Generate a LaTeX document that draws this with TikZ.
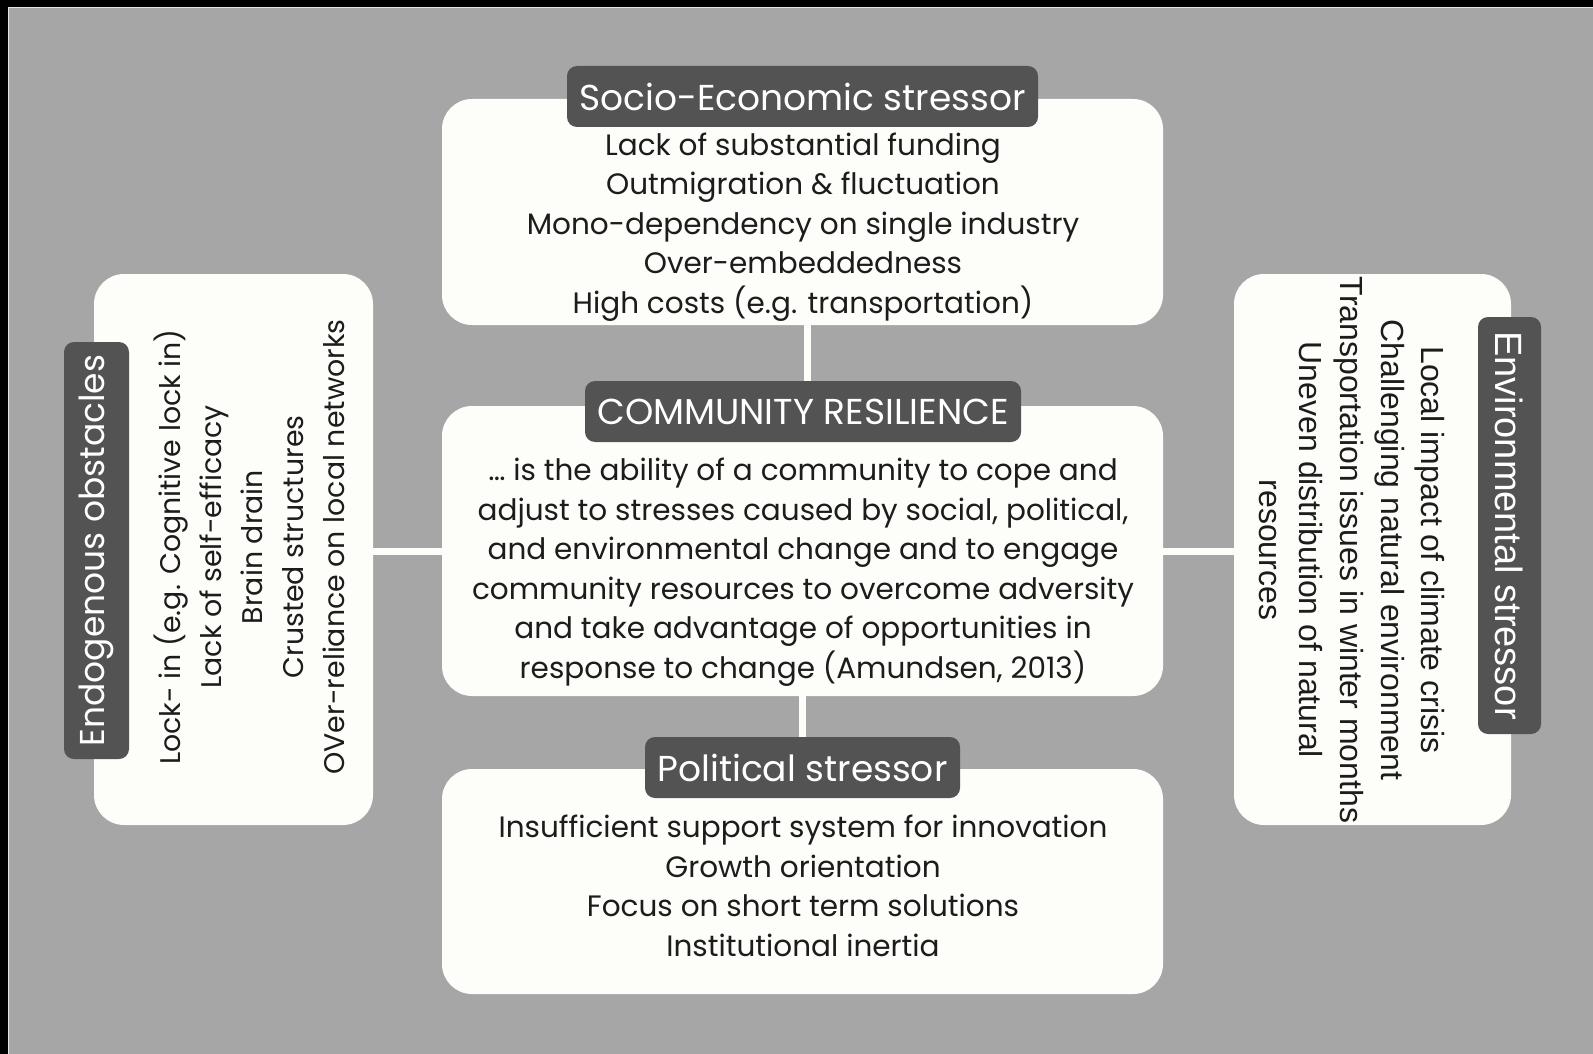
\documentclass[tikz,border=0pt]{standalone}
\usepackage{fontspec}
\setmainfont{Poppins}
\newfontfamily\arialfont{Liberation Sans}
\definecolor{bggray}{HTML}{A6A6A6}
\definecolor{boxfill}{HTML}{FDFDF9}
\definecolor{labfill}{HTML}{535353}
\definecolor{txt}{HTML}{1C1C1C}
\tikzset{
  panel/.style={draw=none, fill=boxfill, rounded corners=30pt, inner sep=0pt},
  tag/.style={draw=none, fill=labfill, rounded corners=10pt, inner sep=0pt, text=white, font=\fontsize{36}{40}\selectfont},
  body/.style={align=center, text=txt, inner sep=0pt, font=\fontsize{29.5}{39.5}\selectfont},
  link/.style={draw=boxfill, line width=7pt}
}
\begin{document}
\begin{tikzpicture}[x=1pt,y=-1pt]
\useasboundingbox (0,0) rectangle (1593,1054);
\fill[bggray] (0,0) rectangle (1593,1054);
\fill[black] (0,0) rectangle (1593,7);
\fill[black] (0,0) rectangle (8,1054);
\draw[draw=white!80!gray, line width=1pt] (8.5,1054) -- (8.5,7.5) -- (1593,7.5);

% panels
\node[panel, minimum width=721pt, minimum height=226pt] (se) at (802.5,212) {};
\node[panel, minimum width=721pt, minimum height=290pt] (cr) at (802.5,551) {};
\node[panel, minimum width=721pt, minimum height=225pt] (po) at (802.5,881.5) {};
\node[panel, minimum width=279pt, minimum height=551pt] (en) at (233.5,549.5) {};
\node[panel, minimum width=277pt, minimum height=551pt] (ev) at (1372.5,549.5) {};

% connectors
\draw[link] ([xshift=5pt]se.south) -- ([xshift=5pt]cr.north);
\draw[link] ([xshift=0pt]cr.south) -- ([xshift=0pt]po.north);
\draw[link] (cr.west) -- (en.east |- cr.west);
\draw[link] (cr.east) -- (ev.west |- cr.east);

% tags
\node[tag, minimum width=471pt, minimum height=61pt] (tse) at (802.5,96.5) {Socio-Economic stressor};
\node[tag, minimum width=436pt, minimum height=61pt] (tcr) at (803,411.5) {COMMUNITY RESILIENCE};
\node[tag, minimum width=315pt, minimum height=61pt] (tpo) at (802.5,767.5) {Political stressor};
\node[tag, rotate=90, minimum width=417pt, minimum height=65pt, font=\fontsize{34.5}{38}\selectfont] (ten) at (96.5,550.5) {Endogenous obstacles};
\node[tag, rotate=-90, minimum width=417pt, minimum height=63pt, font=\arialfont\fontsize{38}{40}\selectfont] (tev) at (1509.5,525.5) {Environmental stressor};

% texts
\node[body] (bse) at (803,227) {Lack of substantial funding\\Outmigration \& fluctuation\\Mono-dependency on single industry\\Over-embeddedness\\High costs (e.g. transportation)};
\node[body] (bcr) at (803,572) {… is the ability of a community to cope and\\adjust to stresses caused by social, political,\\and environmental change and to engage\\community resources to overcome adversity\\and take advantage of opportunities in\\response to change (Amundsen, 2013)};
\node[body] (bpo) at (803,886) {Insufficient support system for innovation\\Growth orientation\\Focus on short term solutions\\Institutional inertia};
\node[body, rotate=90, font=\fontsize{28.4}{41}\selectfont] (ben) at (249,547) {Lock- in (e.g. Cognitive lock in)\\Lack of self-efficacy\\Brain drain\\Crusted structures\\OVer-reliance on local networks};
\node[body, rotate=-90, font=\arialfont\fontsize{32}{40.6}\selectfont] (bev) at (1352,550) {Local impact of climate crisis\\Challenging natural environment\\Transportation issues in winter months\\Uneven distribution of natural\\resources};
\end{tikzpicture}
\end{document}
